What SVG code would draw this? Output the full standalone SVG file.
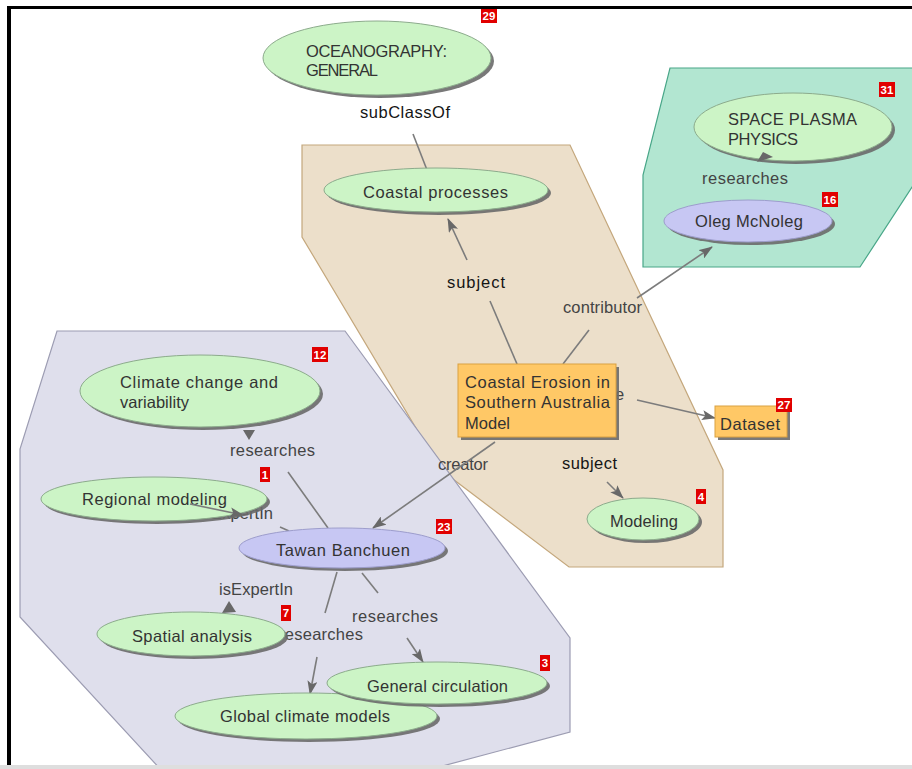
<svg xmlns="http://www.w3.org/2000/svg" width="912" height="769" viewBox="0 0 912 769">
  <defs>
    <style>
      text { font-family: "Liberation Sans", Arial, sans-serif; font-size: 16.5px; }
      .hull-tan { fill: #ecdfca; stroke: #c4a77c; stroke-width: 1.2; }
      .hull-blue { fill: #dfdfec; stroke: #9c9cb2; stroke-width: 1.2; }
      .hull-teal { fill: #b2e6d1; stroke: #48a688; stroke-width: 1.2; }
      .cls { fill: #ccf4c6; stroke: #8cab8c; stroke-width: 1; }
      .per { fill: #c7c7f3; stroke: #9d9dcc; stroke-width: 1; }
      .box { fill: #ffc866; stroke: #d9a142; stroke-width: 1; }
      .sh { fill: #6a6a6a; opacity: 0.9; }
      .nt { fill: #333333; }
      .lbl { fill: #444444; }
      .lbl-dark { fill: #151515; }
      .edge { stroke: #7c7c7c; stroke-width: 1.6; fill: none; }
      .head { fill: #686868; }
      .badge rect { fill: #e10000; }
      .badge text { fill: #ffffff; font-size: 11.5px; font-weight: bold; text-anchor: middle; }
    </style>
    <marker id="arr" viewBox="0 0 14 10" refX="13" refY="5" markerWidth="14" markerHeight="10" markerUnits="userSpaceOnUse" orient="auto">
      <path d="M0,0 L14,5 L0,10 L3,5 z" fill="#686868"/>
    </marker>
  </defs>

  <!-- canvas -->
  <rect x="0" y="0" width="912" height="769" fill="#ffffff"/>

  <!-- group hulls -->
  <g id="hulls">
    <polygon class="hull-tan" points="302,145 570,145 723,470 723,567 569,567 441,470 302,237"/>
    <polygon class="hull-blue" points="57,331 345,331 570,638 570,732 420,772 163,772 20,617 20,449"/>
    <polygon class="hull-teal" points="670,68 914,68 914,184 860,267 643,267 643,175"/>
  </g>

  <!-- connectors: labels first, then lines -->
  <g id="connectors">
    <text class="lbl-dark" x="360" y="118" textLength="90" lengthAdjust="spacing">subClassOf</text>
    <text class="lbl-dark" x="447" y="288" textLength="58" lengthAdjust="spacing">subject</text>
    <text class="lbl" x="563" y="313" textLength="79" lengthAdjust="spacing">contributor</text>
    <text class="lbl" x="702" y="184" textLength="86" lengthAdjust="spacing">researches</text>
    <text class="lbl" x="615" y="400">e</text>
    <text class="lbl" x="438" y="470" textLength="50" lengthAdjust="spacing">creator</text>
    <text class="lbl-dark" x="562" y="469" textLength="55" lengthAdjust="spacing">subject</text>
    <text class="lbl" x="230" y="456" textLength="85" lengthAdjust="spacing">researches</text>
    <text class="lbl" x="199" y="519" textLength="74" lengthAdjust="spacing">isExpertIn</text>
    <text class="lbl" x="219" y="595" textLength="74" lengthAdjust="spacing">isExpertIn</text>
    <text class="lbl" x="279" y="640" textLength="84" lengthAdjust="spacing">researches</text>
    <text class="lbl" x="352" y="622" textLength="86" lengthAdjust="spacing">researches</text>

    <!-- subClassOf -->
    <line class="edge" x1="413" y1="134" x2="427" y2="170"/>
    <!-- subject (Coastal processes) -->
    <line class="edge" x1="517" y1="364" x2="490" y2="301"/>
    <line class="edge" x1="467" y1="260" x2="448" y2="219" marker-end="url(#arr)"/>
    <!-- contributor -->
    <line class="edge" x1="589" y1="330" x2="563" y2="364"/>
    <line class="edge" x1="637" y1="298" x2="712" y2="247" marker-end="url(#arr)"/>
    <!-- type -->
    <line class="edge" x1="637" y1="400" x2="715" y2="418" marker-end="url(#arr)"/>
    <!-- creator -->
    <line class="edge" x1="495" y1="442" x2="373" y2="528" marker-end="url(#arr)"/>
    <!-- subject (Modeling) -->
    <line class="edge" x1="607" y1="482" x2="623" y2="498" marker-end="url(#arr)"/>
    <!-- researches (Climate change) -->
    <line class="edge" x1="328" y1="528" x2="288" y2="472"/>
    <polygon class="head" points="243,430 255,430 249,440"/>
    <!-- isExpertIn (Regional modeling) -->
    <line class="edge" x1="280" y1="527" x2="289" y2="531"/>
    <!-- isExpertIn (Spatial analysis) -->
    <polygon class="head" points="229,601 222,613 236,612"/>
    <!-- researches (Global climate models) -->
    <line class="edge" x1="337" y1="572" x2="325" y2="613"/>
    <line class="edge" x1="317" y1="657" x2="310" y2="694" marker-end="url(#arr)"/>
    <!-- researches (General circulation) -->
    <line class="edge" x1="362" y1="573" x2="378" y2="593"/>
    <line class="edge" x1="407" y1="638" x2="423" y2="662" marker-end="url(#arr)"/>
  </g>

  <!-- nodes -->
  <g id="n29">
    <ellipse class="sh" cx="380" cy="61" rx="114" ry="37"/>
    <ellipse class="cls" cx="377" cy="58" rx="114" ry="37"/>
    <text class="nt" x="306" y="57" font-size="17" textLength="141" lengthAdjust="spacing">OCEANOGRAPHY:</text>
    <text class="nt" x="306" y="76" font-size="17" textLength="72" lengthAdjust="spacing">GENERAL</text>
    <g class="badge"><rect x="481" y="8" width="16" height="15"/><text x="489" y="19.5">29</text></g>
  </g>

  <g id="n31">
    <ellipse class="sh" cx="796" cy="130" rx="99" ry="34"/>
    <ellipse class="cls" cx="793" cy="127" rx="99" ry="34"/>
    <text class="nt" x="728" y="125" textLength="129" lengthAdjust="spacing">SPACE  PLASMA</text>
    <text class="nt" x="728" y="145" textLength="70" lengthAdjust="spacing">PHYSICS</text>
    <g class="badge"><rect x="879" y="82" width="16" height="15"/><text x="887" y="93.5">31</text></g>
  </g>

  <g id="n16">
    <ellipse class="sh" cx="751" cy="224" rx="84" ry="21"/>
    <ellipse class="per" cx="748" cy="221" rx="84" ry="21"/>
    <text class="nt" x="695" y="227" textLength="108" lengthAdjust="spacing">Oleg McNoleg</text>
    <g class="badge"><rect x="822" y="192" width="16" height="15"/><text x="830" y="203.5">16</text></g>
  </g>

  <g id="coastal-processes">
    <ellipse class="sh" cx="439" cy="193" rx="112" ry="22"/>
    <ellipse class="cls" cx="436" cy="190" rx="112" ry="22"/>
    <text class="nt" x="363" y="198" textLength="145" lengthAdjust="spacing">Coastal processes</text>
  </g>

  <g id="coastal-erosion-model">
    <rect class="sh" x="461" y="367" width="158" height="73"/>
    <rect class="box" x="458" y="364" width="158" height="73"/>
    <text class="nt" x="465" y="388" textLength="145" lengthAdjust="spacing">Coastal Erosion in</text>
    <text class="nt" x="465" y="408" textLength="145" lengthAdjust="spacing">Southern  Australia</text>
    <text class="nt" x="465" y="429" textLength="45" lengthAdjust="spacing">Model</text>
  </g>

  <g id="n27">
    <rect class="sh" x="718" y="409" width="72" height="31"/>
    <rect class="box" x="715" y="406" width="72" height="31"/>
    <text class="nt" x="720" y="430" textLength="60" lengthAdjust="spacing">Dataset</text>
    <g class="badge"><rect x="776" y="398" width="16" height="14"/><text x="784" y="409">27</text></g>
  </g>

  <g id="n4">
    <ellipse class="sh" cx="646" cy="522" rx="56" ry="21"/>
    <ellipse class="cls" cx="643" cy="519" rx="56" ry="21"/>
    <text class="nt" x="610" y="527" textLength="68" lengthAdjust="spacing">Modeling</text>
    <g class="badge"><rect x="696" y="489" width="10" height="15"/><text x="701" y="500.5">4</text></g>
  </g>

  <g id="n12">
    <ellipse class="sh" cx="203" cy="394" rx="120" ry="36"/>
    <ellipse class="cls" cx="200" cy="391" rx="120" ry="36"/>
    <text class="nt" x="120" y="388" textLength="158" lengthAdjust="spacing">Climate  change  and</text>
    <text class="nt" x="120" y="408" textLength="69" lengthAdjust="spacing">variability</text>
    <g class="badge"><rect x="312" y="347" width="16" height="15"/><text x="320" y="358.5">12</text></g>
  </g>

  <g id="n1">
    <ellipse class="sh" cx="157" cy="502" rx="113" ry="22"/>
    <ellipse class="cls" cx="154" cy="499" rx="113" ry="22"/>
    <text class="nt" x="82" y="505" textLength="145" lengthAdjust="spacing">Regional modeling</text>
    <g class="badge"><rect x="260" y="467" width="10" height="15"/><text x="265" y="478.5">1</text></g>
  </g>

  <g id="n23">
    <ellipse class="sh" cx="345" cy="551" rx="103" ry="20"/>
    <ellipse class="per" cx="342" cy="548" rx="103" ry="20"/>
    <text class="nt" x="276" y="556" textLength="134" lengthAdjust="spacing">Tawan Banchuen</text>
    <g class="badge"><rect x="436" y="519" width="16" height="15"/><text x="444" y="530.5">23</text></g>
  </g>

  <g id="n7">
    <ellipse class="sh" cx="194" cy="637" rx="94" ry="22"/>
    <ellipse class="cls" cx="191" cy="634" rx="94" ry="22"/>
    <text class="nt" x="132" y="642" textLength="120" lengthAdjust="spacing">Spatial analysis</text>
    <g class="badge"><rect x="281" y="605" width="10" height="16"/><text x="286" y="617">7</text></g>
  </g>

  <g id="global-climate-models">
    <ellipse class="sh" cx="309" cy="719" rx="131" ry="23"/>
    <ellipse class="cls" cx="306" cy="716" rx="131" ry="23"/>
    <text class="nt" x="220" y="722" textLength="170" lengthAdjust="spacing">Global climate models</text>
  </g>

  <g id="n3">
    <ellipse class="sh" cx="440" cy="686" rx="110" ry="21"/>
    <ellipse class="cls" cx="437" cy="683" rx="110" ry="21"/>
    <text class="nt" x="367" y="692" textLength="141" lengthAdjust="spacing">General circulation</text>
    <g class="badge"><rect x="540" y="655" width="10" height="16"/><text x="545" y="667">3</text></g>
  </g>

  <!-- connector parts drawn across their target nodes -->
  <g id="connectors-over">
    <line class="edge" x1="190" y1="504" x2="243" y2="515" marker-end="url(#arr)"/>
    <polygon class="head" points="757,162 763,152 773,157"/>
  </g>

  <!-- window frame -->
  <g id="frame">
    <rect x="7" y="6" width="905" height="3" fill="#000000"/>
    <rect x="7" y="6" width="4" height="759" fill="#000000"/>
    <rect x="0" y="765" width="912" height="4" fill="#dedede"/>
  </g>
</svg>
